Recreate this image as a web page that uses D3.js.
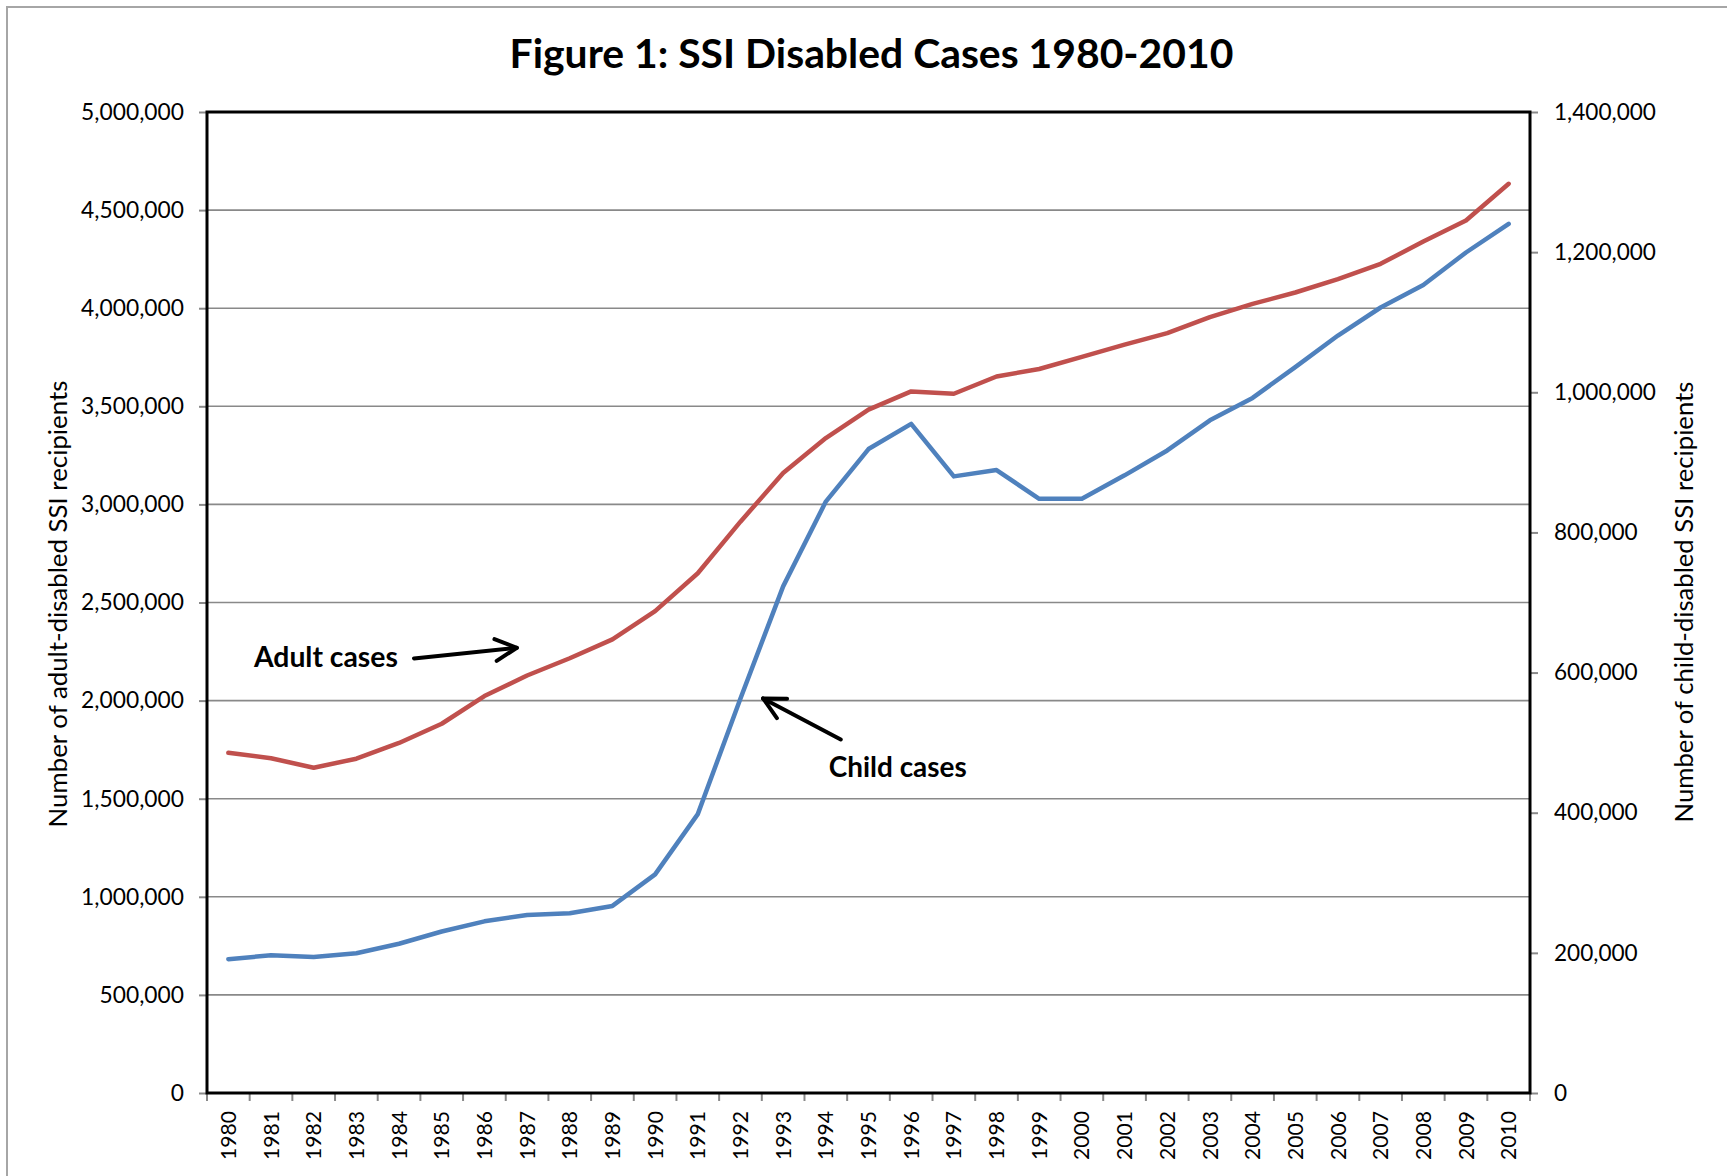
<!DOCTYPE html>
<html>
<head>
<meta charset="utf-8">
<script src="https://cdn.jsdelivr.net/npm/d3@7"></script>
<style>
  html, body { margin: 0; padding: 0; background: #fff; }
  svg { display: block; }
</style>
</head>
<body>
<script>
// ---------------- data ----------------
const years = ["1980","1981","1982","1983","1984","1985","1986","1987","1988","1989","1990",
  "1991","1992","1993","1994","1995","1996","1997","1998","1999","2000",
  "2001","2002","2003","2004","2005","2006","2007","2008","2009","2010"];
const adultCases = [1734000,1706000,1658000,1704000,1784000,1882000,2023000,2128000,2216000,2312000,
  2456000,2649000,2912000,3160000,3338000,3483000,3576000,3564000,3652000,3690000,
  3752000,3814000,3873000,3955000,4022000,4080000,4148000,4226000,4340000,4447000,4634000];
const childCases = [191000,196500,194000,199500,213000,230500,245000,254000,256500,267000,
  312000,398000,563000,723000,844000,919000,955000,880000,889000,848000,
  848000,881500,917000,960000,992000,1036000,1081000,1121000,1153000,1199500,1240500];
const leftTicks = [0,500000,1000000,1500000,2000000,2500000,3000000,3500000,4000000,4500000,5000000];
const rightTicks = [0,200000,400000,600000,800000,1000000,1200000,1400000];
const titleText = "Figure 1: SSI Disabled Cases 1980-2010";
const leftTitle = "Number of adult-disabled SSI recipients";
const rightTitle = "Number of child-disabled SSI recipients";
// annotations in data space: [yearPosition, leftAxisValue]
const adultLabel = {text: "Adult cases", at: [1980.6, 2169000], tail: [1984.35, 2215000], tip: [1986.76, 2269000]};
const childLabel = {text: "Child cases", at: [1994.07, 1609000], tail: [1994.35, 1802000], tip: [1992.53, 2011000]};

// ---------------- layout ----------------
const W = 1727, H = 1176;
const L = 207, T = 112, R = 1530, B = 1093;
const FONT = "Lato, 'Open Sans', sans-serif";
const RED = "#C0504D", BLUE = "#4F81BD";

const svg = d3.select("body").append("svg").attr("width", W).attr("height", H);
svg.append("rect").attr("width", W).attr("height", H).attr("fill", "#fff");
// outer chart-area border (cropped at right/bottom)
svg.append("rect").attr("x", 7).attr("y", 7).attr("width", W + 20).attr("height", H + 20)
  .attr("fill", "none").attr("stroke", "#a6a6a6").attr("stroke-width", 2);

const x = d3.scaleBand().domain(years).range([L, R]).padding(0);
const bw = x.bandwidth();
const xc = d => x(d) + bw / 2;
const xf = yf => x(years[0]) + bw / 2 + (yf - +years[0]) * bw;
const yL = d3.scaleLinear().domain([0, 5000000]).range([B, T]);
const yR = d3.scaleLinear().domain([0, 1400000]).range([B, T]);

function fit(sel, target) {
  const w = sel.node().getComputedTextLength();
  const fs = parseFloat(sel.attr("font-size"));
  sel.attr("font-size", fs * target / w);
}

// gridlines
svg.append("g").selectAll("line").data(leftTicks.filter(d => d > 0 && d < 5000000)).join("line")
  .attr("x1", L).attr("x2", R).attr("y1", d => yL(d)).attr("y2", d => yL(d))
  .attr("stroke", "#898989").attr("stroke-width", 1.6);

// left axis
const gl = svg.append("g").attr("transform", `translate(${L},0)`)
  .call(d3.axisLeft(yL).tickValues(leftTicks).tickFormat(d3.format(",")).tickSize(8).tickPadding(15));
gl.select(".domain").remove();
gl.selectAll(".tick line").attr("stroke", "#898989").attr("stroke-width", 2);
gl.selectAll(".tick text").attr("font-family", FONT).attr("font-size", 22).attr("fill", "#000");
{
  const t = gl.selectAll(".tick text").filter(d => d === 5000000);
  const w = t.node().getComputedTextLength();
  gl.selectAll(".tick text").attr("font-size", 22 * 103 / w);
}

// right axis
const gr = svg.append("g").attr("transform", `translate(${R},0)`)
  .call(d3.axisRight(yR).tickValues(rightTicks).tickFormat(d3.format(",")).tickSize(8).tickPadding(16));
gr.select(".domain").remove();
gr.selectAll(".tick line").attr("stroke", "#898989").attr("stroke-width", 2);
gr.selectAll(".tick text").attr("font-family", FONT).attr("font-size", 22).attr("fill", "#000");
{
  const t = gr.selectAll(".tick text").filter(d => d === 1400000);
  const w = t.node().getComputedTextLength();
  gr.selectAll(".tick text").attr("font-size", 22 * 102 / w);
}

// x ticks between categories
const xt = svg.append("g");
xt.selectAll("line").data(years.concat(["__end"])).join("line")
  .attr("x1", d => d === "__end" ? R : x(d)).attr("x2", d => d === "__end" ? R : x(d))
  .attr("y1", B).attr("y2", B + 8)
  .attr("stroke", "#898989").attr("stroke-width", 2);
const yl = svg.append("g").selectAll("text").data(years).join("text")
  .attr("transform", d => `translate(${xc(d)},${B + 18}) rotate(-90)`)
  .attr("text-anchor", "end").attr("dy", "0.36em")
  .attr("font-family", FONT).attr("font-size", 22).attr("fill", "#000")
  .text(d => d);
{
  const w = yl.node().getComputedTextLength();
  yl.attr("font-size", 22 * 49 / w);
}

// plot-area border
svg.append("rect").attr("x", L).attr("y", T).attr("width", R - L).attr("height", B - T)
  .attr("fill", "none").attr("stroke", "#000").attr("stroke-width", 3);

// lines
const lineL = d3.line().x((d, i) => xc(years[i])).y(d => yL(d));
const lineR = d3.line().x((d, i) => xc(years[i])).y(d => yR(d));
svg.append("path").datum(adultCases).attr("d", lineL)
  .attr("fill", "none").attr("stroke", RED).attr("stroke-width", 4.5)
  .attr("stroke-linejoin", "round").attr("stroke-linecap", "round");
svg.append("path").datum(childCases).attr("d", lineR)
  .attr("fill", "none").attr("stroke", BLUE).attr("stroke-width", 4.5)
  .attr("stroke-linejoin", "round").attr("stroke-linecap", "round");

// title
const tt = svg.append("text").attr("x", (L + R) / 2 + 3).attr("y", 68)
  .attr("text-anchor", "middle").attr("font-family", FONT).attr("font-weight", "bold")
  .attr("font-size", 36).attr("fill", "#000").text(titleText);
fit(tt, 724);

// axis titles
const lt = svg.append("text").attr("transform", `translate(58,604) rotate(-90)`)
  .attr("text-anchor", "middle").attr("dy", "0.35em").attr("font-family", FONT)
  .attr("font-size", 22).attr("fill", "#000").text(leftTitle);
fit(lt, 447);
const rt = svg.append("text").attr("transform", `translate(1684,602) rotate(-90)`)
  .attr("text-anchor", "middle").attr("dy", "0.35em").attr("font-family", FONT)
  .attr("font-size", 22).attr("fill", "#000").text(rightTitle);
fit(rt, 441);

// annotations
function annotate(a, targetW) {
  const t = svg.append("text").attr("x", xf(a.at[0])).attr("y", yL(a.at[1]))
    .attr("font-family", FONT).attr("font-weight", "bold").attr("font-size", 24)
    .attr("fill", "#000").text(a.text);
  fit(t, targetW);
  const x1 = xf(a.tail[0]), y1 = yL(a.tail[1]), x2 = xf(a.tip[0]), y2 = yL(a.tip[1]);
  const ang = Math.atan2(y1 - y2, x1 - x2);
  const wl = 24, wa = 27 * Math.PI / 180;
  const g = svg.append("g").attr("fill", "none").attr("stroke", "#000").attr("stroke-width", 4)
    .attr("stroke-linecap", "round").attr("stroke-linejoin", "round");
  g.append("line").attr("x1", x1).attr("y1", y1).attr("x2", x2).attr("y2", y2);
  g.append("path").attr("d",
    `M${x2 + wl * Math.cos(ang + wa)},${y2 + wl * Math.sin(ang + wa)}L${x2},${y2}L${x2 + wl * Math.cos(ang - wa)},${y2 + wl * Math.sin(ang - wa)}`);
}
annotate(adultLabel, 144);
annotate(childLabel, 138);
</script>
</body>
</html>
